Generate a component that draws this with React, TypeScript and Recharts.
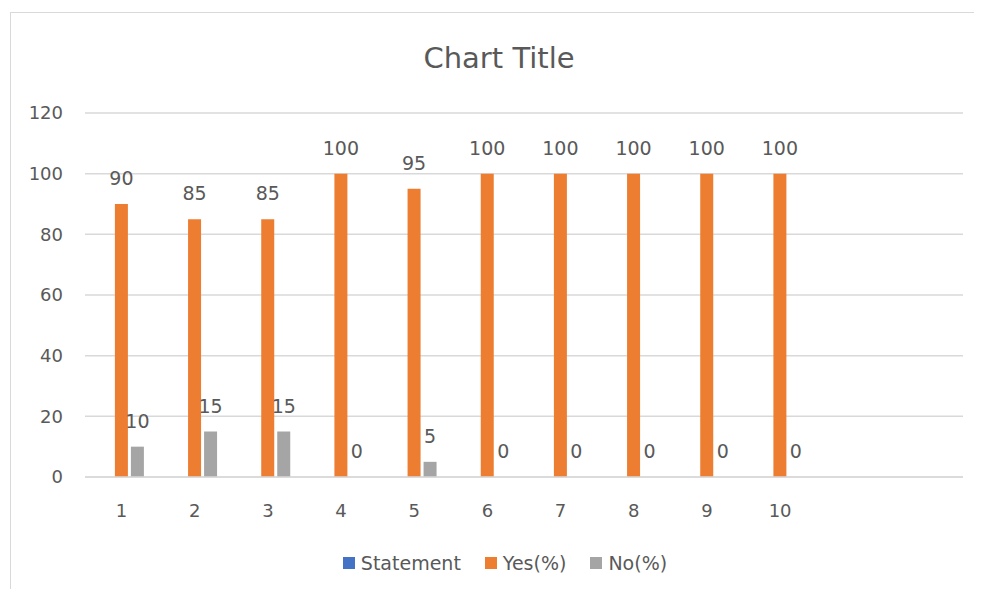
import React from "react";
import {
  BarChart, Bar, XAxis, YAxis, CartesianGrid, Legend, LabelList,
} from "recharts";

// 12 category slots, the last two are empty rows in the sheet
const categories = ["1", "2", "3", "4", "5", "6", "7", "8", "9", "10", "11", "12"];
const statement: (number | null)[] = [null, null, null, null, null, null, null, null, null, null, null, null];
const yesPct: (number | null)[] = [90, 85, 85, 100, 95, 100, 100, 100, 100, 100, null, null];
const noPct: (number | null)[] = [10, 15, 15, 0, 5, 0, 0, 0, 0, 0, null, null];
const yTicks = [0, 20, 40, 60, 80, 100, 120];

const FONT = "'DejaVu Sans', sans-serif";
const TEXT = "#595959";

const SERIES = [
  { key: "statement", name: "Statement", color: "#4472C4" },
  { key: "yes", name: "Yes(%)", color: "#ED7D31" },
  { key: "no", name: "No(%)", color: "#A5A5A5" },
];

const data = categories.map((c, i) => ({
  cat: c,
  statement: statement[i],
  yes: yesPct[i],
  no: noPct[i],
}));

function LegendContent() {
  return (
    <div style={{ display: "flex", justifyContent: "center", alignItems: "center", fontFamily: FONT, fontSize: 19, color: TEXT }}>
      {SERIES.map((s, i) => (
        <div key={s.key} style={{ display: "flex", alignItems: "center", marginLeft: i ? 24 : 0 }}>
          <span style={{ width: 12, height: 12, background: s.color, display: "inline-block", marginRight: 6 }} />
          <span>{s.name}</span>
        </div>
      ))}
    </div>
  );
}

// zero values still get a "0" label, so give them a hair-thin bar
const zeroSize = (v: any) => (v === 0 ? 0.01 : 0);

export default function App() {
  return (
    <div style={{ position: "relative", width: 982, height: 597, margin: -8, overflow: "hidden", background: "#fff" }}>
      <div style={{ position: "absolute", left: 10, top: 12, width: 990, height: 600, border: "1px solid #d9d9d9" }} />
      <div style={{
        position: "absolute", left: 0, width: 998, top: 41, textAlign: "center",
        fontFamily: FONT, fontSize: 29, color: TEXT,
      }}>
        Chart Title
      </div>
      <BarChart
        width={982}
        height={597}
        data={data}
        margin={{ top: 113, right: 19, left: 0, bottom: 0 }}
        barCategoryGap="19%"
        barGap={3}
        style={{ position: "absolute", left: 0, top: 0 }}
      >
        <CartesianGrid vertical={false} stroke="#d9d9d9" strokeWidth={1.5} />
        <XAxis
          dataKey="cat"
          height={96}
          axisLine={{ stroke: "#d9d9d9", strokeWidth: 1.5 }}
          tickLine={false}
          tickMargin={21}
          interval={0}
          tick={{ fontSize: 18, fill: TEXT, fontFamily: FONT }}
          tickFormatter={(v: string) => (Number(v) > 10 ? "" : v)}
        />
        <YAxis
          width={85}
          domain={[0, 120]}
          ticks={yTicks}
          axisLine={false}
          tickLine={false}
          tickMargin={16}
          tick={{ fontSize: 18, fill: TEXT, fontFamily: FONT }}
        />
        <Legend
          content={<LegendContent />}
          wrapperStyle={{ position: "absolute", top: 552, left: 10, width: 990, height: 24 }}
        />
        {SERIES.map((s) => (
          <Bar
            key={s.key}
            dataKey={s.key}
            name={s.name}
            fill={s.color}
            minPointSize={zeroSize}
            isAnimationActive={false}
          >
            {s.key !== "statement" && (
              <LabelList
                dataKey={s.key}
                position="top"
                offset={19}
                style={{ fontSize: 19, fill: TEXT, fontFamily: FONT }}
              />
            )}
          </Bar>
        ))}
      </BarChart>
    </div>
  );
}
